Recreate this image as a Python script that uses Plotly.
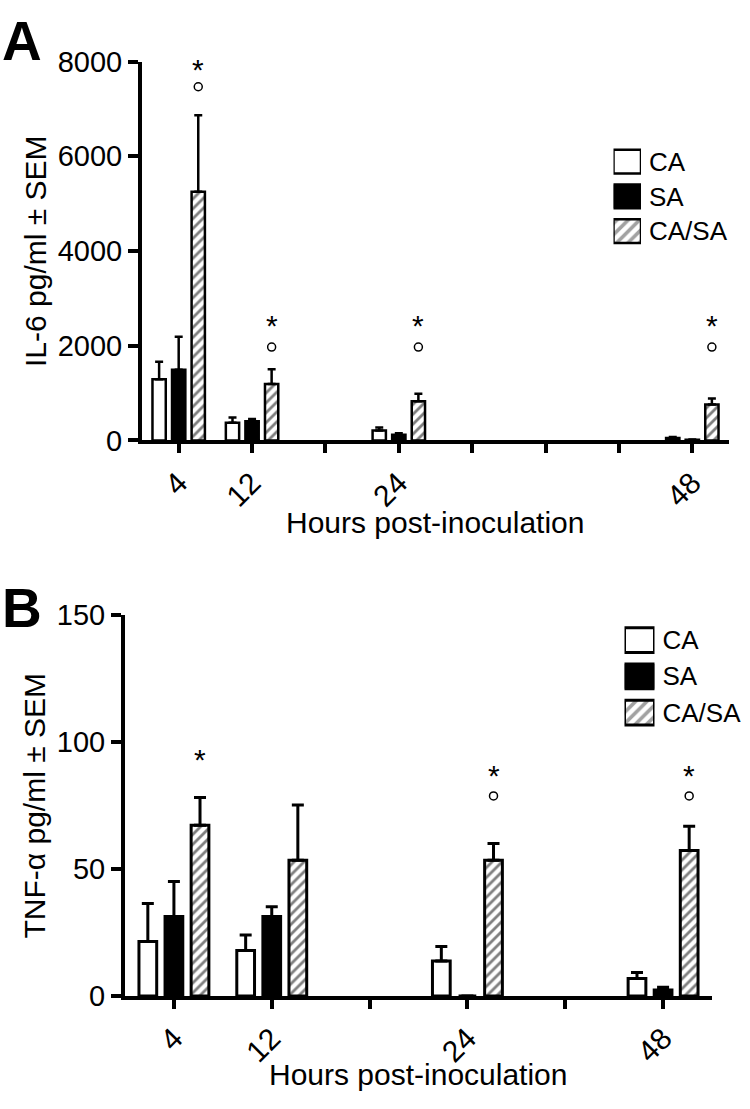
import plotly.graph_objects as go

FONT = 'Liberation Sans, Arial, sans-serif'
W, H = 750, 1109

hours = ['4', '12', '24', '48']
series = ['CA', 'SA', 'CA/SA']

# axis slots (blank slots are unlabeled ticks on the hour axis)
il6_slots = ['4', '12', ' ', '24', '  ', '   ', '    ', '48']
tnf_slots = ['4', '12', ' ', '24', '  ', '48']

# IL-6 pg/ml, mean and SEM
il6_ca = [1290, 370, 210, 50]
il6_ca_sem = [370, 115, 60, 20]
il6_sa = [1490, 405, 120, 15]
il6_sa_sem = [700, 48, 30, 5]
il6_casa = [5250, 1190, 827, 760]
il6_casa_sem = [1615, 310, 160, 125]
il6_star = [7990, 2565, 2565, 2565]
il6_circle = [7470, 1970, 1970, 1970]

# TNF-alpha pg/ml, mean and SEM
tnf_ca = [21.4, 17.9, 13.7, 6.9]
tnf_ca_sem = [15.0, 6.1, 5.8, 2.3]
tnf_sa = [31.3, 31.3, 0, 2.3]
tnf_sa_sem = [13.8, 3.8, 0, 1.1]
tnf_casa = [67.2, 53.4, 53.4, 57.3]
tnf_casa_sem = [11.0, 21.8, 6.6, 9.5]
tnf_star = [96, None, 89.5, 89.5]
tnf_circle = [None, None, 78.8, 78.8]

BARGAP = 0.2
fills = {'CA': ('white', ''), 'SA': ('black', ''), 'CA/SA': ('white', '/')}


def py(px):
    return 1 - px / H


def marker(name, lw):
    c, shape = fills[name]
    return dict(color=c, line=dict(color='black', width=lw),
                pattern=dict(shape=shape, fgcolor='black', size=7, solidity=0.4))


fig = go.Figure()

panels = [
    ('x', 'y', [il6_ca, il6_sa, il6_casa], [il6_ca_sem, il6_sa_sem, il6_casa_sem], 2.5, 4),
    ('x2', 'y2', [tnf_ca, tnf_sa, tnf_casa], [tnf_ca_sem, tnf_sa_sem, tnf_casa_sem], 3, 6),
]
for xa, ya, vals, sems, lw, capw in panels:
    for name, v, s in zip(series, vals, sems):
        fig.add_trace(go.Bar(
            x=hours, y=v, name=name, xaxis=xa, yaxis=ya,
            marker=marker(name, lw),
            error_y=dict(type='data', array=s, arrayminus=[0] * len(s), symmetric=False,
                         color='black', thickness=lw, width=capw),
            showlegend=False
        ))

# hand-made legends built from bars
for xa, ya, lw in [('x3', 'y3', 2.5), ('x4', 'y4', 3)]:
    fig.add_trace(go.Bar(
        x=[1] * len(series), y=series, orientation='h', xaxis=xa, yaxis=ya,
        width=0.68, showlegend=False, hoverinfo='skip',
        marker=dict(color=[fills[n][0] for n in series],
                    line=dict(color='black', width=lw),
                    pattern=dict(shape=[fills[n][1] for n in series], fgcolor='black',
                                 size=8, solidity=0.45))
    ))

offset = (1 - BARGAP) / 3
annotations = []
shapes = []
for xa, ya, slots, stars, circles in [('x', 'y', il6_slots, il6_star, il6_circle),
                                      ('x2', 'y2', tnf_slots, tnf_star, tnf_circle)]:
    for h, st, ci in zip(hours, stars, circles):
        pos = slots.index(h) + offset
        if st is not None:
            annotations.append(dict(x=pos, y=st, xref=xa, yref=ya, text='*', showarrow=False,
                                    xanchor='center', yanchor='middle',
                                    font=dict(size=30, color='black'), yshift=-7))
        if ci is not None:
            shapes.append(dict(type='circle', xref=xa, yref=ya, xsizemode='pixel', ysizemode='pixel',
                               xanchor=pos, yanchor=ci, x0=-4, x1=4, y0=-4, y1=4,
                               line=dict(color='black', width=1.5)))

annotations += [
    dict(text='<b>A</b>', x=0, y=py(26), xref='paper', yref='paper', xanchor='left',
         yanchor='middle', showarrow=False, font=dict(size=55)),
    dict(text='<b>B</b>', x=0, y=py(610), xref='paper', yref='paper', xanchor='left',
         yanchor='middle', showarrow=False, font=dict(size=55)),
    dict(text='Hours post-inoculation', x=0.5, y=py(522), xref='x domain', yref='paper',
         xanchor='center', yanchor='middle', showarrow=False, font=dict(size=30)),
    dict(text='Hours post-inoculation', x=0.5, y=py(1090), xref='x2 domain', yref='paper',
         xanchor='center', yanchor='middle', showarrow=False, font=dict(size=30)),
    dict(text='IL-6 pg/ml ± SEM', x=35 / W, y=0.5, xref='paper', yref='y domain',
         xanchor='center', yanchor='middle', textangle=-90, showarrow=False,
         font=dict(size=30)),
    dict(text='TNF-α pg/ml ± SEM', x=35 / W, y=0.5, xref='paper', yref='y2 domain',
         xanchor='center', yanchor='middle', textangle=-90, showarrow=False,
         font=dict(size=30)),
]

xcommon = dict(type='category', categoryorder='array', tickmode='linear', tick0=0, dtick=1,
               ticks='outside', ticklen=9, tickwidth=3.5, tickcolor='black', showline=True,
               linewidth=4, linecolor='black', tickangle=-45, tickfont=dict(size=30),
               showgrid=False, zeroline=False)
ycommon = dict(ticks='outside', ticklen=10, tickwidth=3.5, tickcolor='black', showline=True,
               linewidth=4, linecolor='black', tickfont=dict(size=29), showgrid=False,
               zeroline=False)
legx = dict(range=[0, 1], visible=False, fixedrange=True)
legy = dict(type='category', categoryorder='array', categoryarray=series,
            range=[len(series) - 0.5, -0.5], side='right', ticks='', showline=False,
            showgrid=False, zeroline=False, ticklabelstandoff=7)

fig.update_layout(
    width=W, height=H, margin=dict(l=0, r=0, t=0, b=0),
    paper_bgcolor='white', plot_bgcolor='white',
    font=dict(family=FONT, color='black'),
    barmode='group', bargap=BARGAP, bargroupgap=0.32,
    showlegend=False,
    xaxis=dict(xcommon, domain=[142 / W, 729 / W], categoryarray=il6_slots,
               range=[-0.5, len(il6_slots) - 0.5], anchor='y'),
    yaxis=dict(ycommon, domain=[py(437), py(47)], range=[0, 8000],
               tickvals=[0, 2000, 4000, 6000, 8000], anchor='x'),
    xaxis2=dict(xcommon, domain=[125 / W, 712 / W], categoryarray=tnf_slots,
                range=[-0.5, len(tnf_slots) - 0.5], anchor='y2'),
    yaxis2=dict(ycommon, domain=[py(1009), py(617)], range=[0, 150],
                tickvals=[0, 50, 100, 150], anchor='x2'),
    xaxis3=dict(legx, domain=[613.5 / W, 641 / W], anchor='y3'),
    yaxis3=dict(legy, domain=[py(239.5), py(132)], anchor='x3', tickfont=dict(size=26)),
    xaxis4=dict(legx, domain=[624.5 / W, 654.5 / W], anchor='y4'),
    yaxis4=dict(legy, domain=[py(736), py(624)], anchor='x4', tickfont=dict(size=26)),
    annotations=annotations,
    shapes=shapes,
)

# drop the browser's default page margin so the figure sits at the window origin
fig.write_html("out.html", config={'displayModeBar': False},
               post_script="document.body.style.margin = '0';")
